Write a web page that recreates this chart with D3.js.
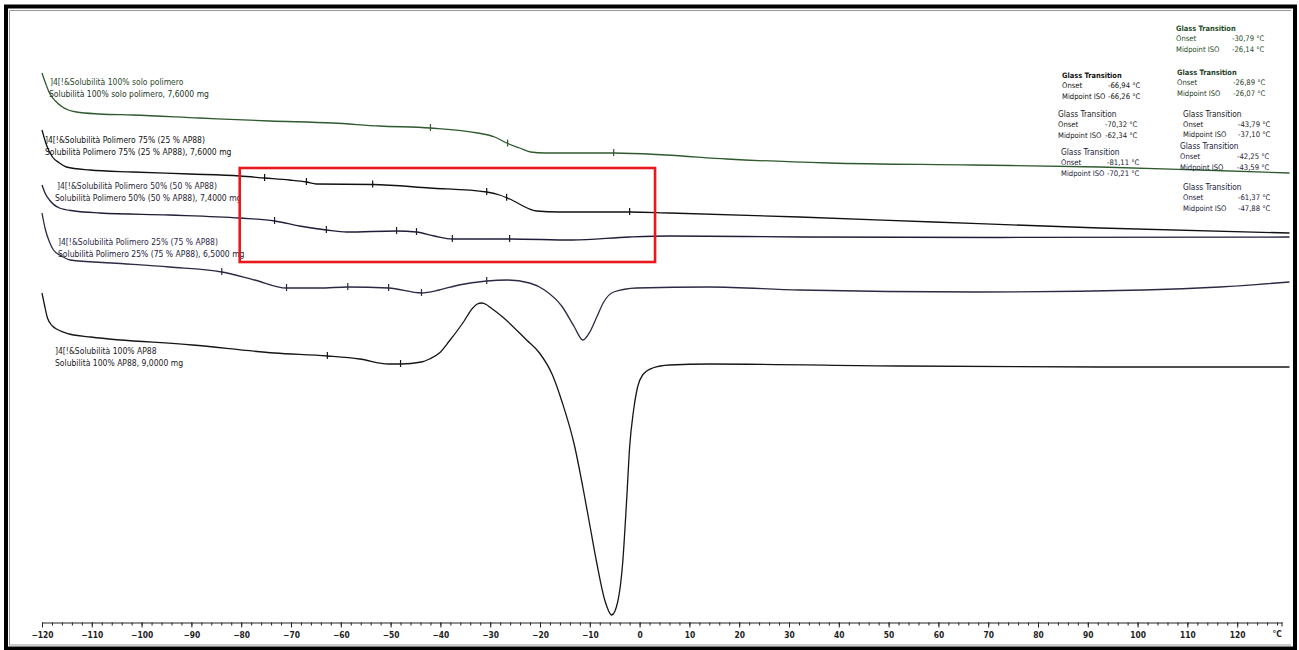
<!DOCTYPE html>
<html>
<head>
<meta charset="utf-8">
<script src="https://cdn.jsdelivr.net/npm/d3@7"></script>
<style>
  body { margin: 0; background: #fff; }
  svg { display: block; }
  text { font-family: "DejaVu Sans Condensed", "Liberation Sans Narrow", sans-serif; }
</style>
</head>
<body>
<div id="chart"></div>
<script>
// DSC curves: temperature (°C) and relative heat flow (mW, offset per curve)
const temps1 = [-120, -119.3, -118.5, -117.3, -115.9, -113.1, -108.4, -101.8, -88.4, -74.3, -61.6, -52.2, -42, -32.5, -29.1, -26.7, -24.1, -21.9, -19.1, -13.7, -5.2, 5.2, 17.5, 38, 66.7, 92.4, 112.4, 130.5];
const flow1  = [-7.3, -8.3, -9.3, -10.1, -10.7, -11.2, -11.4, -11.5, -11.8, -12.1, -12.3, -12.6, -12.8, -13.3, -13.7, -14.3, -14.8, -15.2, -15.3, -15.3, -15.3, -15.5, -15.9, -16.3, -16.5, -16.7, -17, -17.3];

const temps2 = [-120, -119.1, -117.9, -116.5, -115.1, -110.4, -101.8, -90.4, -80.3, -75.3, -70.3, -66.9, -64.9, -53.6, -42.2, -30.7, -28.1, -26.1, -20.7, -16.1, -2, 6, 32.1, 59, 92.4, 130.5];
const flow2  = [-13.0, -14.5, -15.7, -16.3, -16.7, -17.0, -17.2, -17.4, -17.6, -17.8, -18.0, -18.2, -18.4, -18.45, -18.8, -19.2, -19.5, -19.9, -21.1, -21.2, -21.2, -21.3, -21.7, -22.2, -22.8, -23.3];

const temps3 = [-120, -119.3, -118.5, -116.5, -113.5, -108.4, -94.4, -80.3, -73.3, -68.3, -62.9, -58.8, -48.8, -44.8, -41.2, -37.6, -26.1, -13.5, -2, 6, 32.1, 72.3, 130.5];
const flow3  = [-18.5, -19.4, -20.0, -20.8, -21.1, -21.3, -21.5, -21.8, -22.1, -22.6, -23.0, -23.2, -23.1, -23.2, -23.6, -23.9, -23.9, -24.0, -23.7, -23.6, -23.7, -23.75, -23.7];

const temps4 = [-120, -119.3, -118.5, -117.7, -116.1, -114.3, -106, -94.4, -83.9, -77.3, -70.9, -64.3, -58.6, -50.4, -43.8, -40.2, -36.3, -30.7, -26.5, -22.1, -19.1, -15.5, -13.1, -11.4, -10, -8.6, -7.2, -5.2, -0.6, 14.1, 32.1, 67.5, 101.2, 116.5, 130.5];
const flow4  = [-21.3, -23.0, -24.2, -25.0, -25.6, -26.0, -26.3, -26.7, -27.2, -28.0, -28.8, -28.8, -28.7, -28.8, -29.3, -29.0, -28.5, -28.1, -28.0, -28.3, -29.0, -30.7, -32.7, -34.0, -33.2, -31.7, -30.2, -29.2, -28.8, -28.7, -29.0, -29.2, -29.0, -28.7, -28.2];

const temps5 = [-120, -119.5, -118.9, -117.9, -116.7, -114.5, -110.2, -89.8, -73.3, -62.7, -56.2, -50.4, -48, -43.8, -42.2, -40.2, -38.2, -35.5, -33.5, -32.6, -31.7, -30.8, -30.1, -27.5, -22.7, -20.1, -17.5, -15.5, -13.1, -11.4, -10, -8.6, -7, -5.6, -4.4, -3.4, -2.6, -2, -1.2, -0.4, 0.6, 2.6, 6, 14.1, 52.2, 92.4, 130.5];
const flow5  = [-29.3, -30.5, -31.8, -32.6, -33.0, -33.4, -33.7, -34.5, -35.3, -35.6, -35.9, -36.4, -36.4, -36.2, -35.9, -35.3, -34.1, -32.3, -30.8, -30.4, -30.3, -30.45, -30.7, -31.7, -34.0, -35.3, -37.5, -40.3, -44.5, -48.7, -52.5, -56.3, -60.0, -61.5, -60.2, -56.3, -50.0, -44.7, -41.0, -38.7, -37.5, -36.8, -36.5, -36.4, -36.6, -36.7, -36.7];

// evaluation markers on each curve (°C)
const marks1 = [-42, -26.5, -5.2];
const marks2 = [-75.3, -66.9, -53.6, -30.7, -26.7, -2];
const marks3 = [-73.3, -62.9, -48.8, -44.8, -37.6, -26.1];
const marks4 = [-83.9, -70.9, -58.6, -50.4, -43.8, -30.7];
const marks5 = [-62.7, -48];

// sample names and masses
const sampleNames = [
  'Solubilità 100% solo polimero',
  'Solubilità Polimero 75% (25 % AP88)',
  'Solubilità Polimero 50% (50 % AP88)',
  'Solubilità Polimero 25% (75 % AP88)',
  'Solubilità 100% AP88'
];
const sampleMasses = ['7,6000', '7,6000', '7,4000', '6,5000', '9,0000'];

// glass transition results
const onsetValues    = ['-30,79', '-66,94', '-26,89', '-70,32', '-43,79', '-42,25', '-81,11', '-61,37'];
const midpointValues = ['-26,14', '-66,26', '-26,07', '-62,34', '-37,10', '-43,59', '-70,21', '-47,88'];

// x tick labels
const tickLabels = d3.range(-120, 121, 10);

const W = 1299, H = 650;
const svg = d3.select('#chart').append('svg')
  .attr('width', W)
  .attr('height', H);

const x = d3.scaleLinear().domain([-120, 129]).range([42, 42 + 249 * 4.98]);
const y = d3.scaleLinear().domain([0, -62]).range([0, 620]);

const curves = [
  {t: temps1, f: flow1, marks: marks1, color: '#2f5a2f'},
  {t: temps2, f: flow2, marks: marks2, color: '#111111'},
  {t: temps3, f: flow3, marks: marks3, color: '#1e1e38'},
  {t: temps4, f: flow4, marks: marks4, color: '#2a2a44'},
  {t: temps5, f: flow5, marks: marks5, color: '#161616'}
];

const line = d3.line()
  .x(d => x(d[0]))
  .y(d => y(d[1]))
  .curve(d3.curveMonotoneX);

curves.forEach(c => {
  const pts = c.t.map((t, i) => [t, c.f[i]]);
  svg.append('path')
    .datum(pts)
    .attr('fill', 'none')
    .attr('stroke', c.color)
    .attr('stroke-width', 1.3)
    .attr('d', line);

  // piecewise linear lookup for marker positions
  const along = d3.scaleLinear().domain(c.t).range(c.f);
  svg.selectAll(null)
    .data(c.marks)
    .enter().append('line')
    .attr('x1', d => x(d))
    .attr('x2', d => x(d))
    .attr('y1', d => y(along(d)) - 4)
    .attr('y2', d => y(along(d)) + 3)
    .attr('stroke', c.color)
    .attr('stroke-width', 1.2);
});

// sample labels
const labelLayout = [
  {x1: 50, x2: 49, y: 85, c1: '#2b4a2b', c2: '#22381f'},
  {x1: 45, x2: 45, y: 143, c1: '#111', c2: '#111'},
  {x1: 57, x2: 55, y: 189, c1: '#2a1f38', c2: '#1f1a2a'},
  {x1: 58, x2: 58, y: 245, c1: '#2a2a48', c2: '#222238'},
  {x1: 55, x2: 55, y: 354, c1: '#1a1a1a', c2: '#1a1a1a'}
];
sampleNames.forEach((name, i) => {
  const l = labelLayout[i];
  svg.append('text')
    .attr('x', l.x1).attr('y', l.y)
    .attr('font-size', 8.5).attr('fill', l.c1)
    .text(']4[!&' + name);
  svg.append('text')
    .attr('x', l.x2).attr('y', l.y + 11.5)
    .attr('font-size', 8.5).attr('fill', l.c2)
    .text(name + ', ' + sampleMasses[i] + ' mg');
});

// glass transition result blocks
const blockLayout = [
  {x: 1176, vx: 1232, y: 31, color: '#1f4d1f', bold: true},
  {x: 1062, vx: 1108, y: 78, color: '#111', bold: true},
  {x: 1177, vx: 1233, y: 75, color: '#1f3d1f', bold: true},
  {x: 1058, vx: 1105, y: 117, color: '#1a1a1a', bold: false},
  {x: 1183, vx: 1238, y: 116.5, color: '#1a1a1a', bold: false},
  {x: 1180, vx: 1237, y: 149, color: '#1a1a38', bold: false},
  {x: 1061, vx: 1107, y: 155, color: '#1a1a38', bold: false},
  {x: 1183, vx: 1238, y: 190, color: '#1a1a38', bold: false}
];
onsetValues.forEach((v, i) => {
  const b = blockLayout[i];
  const g = svg.append('g').attr('fill', b.color).attr('font-size', 7.6);
  g.append('text').attr('x', b.x).attr('y', b.y)
    .attr('font-weight', b.bold ? 'bold' : 'normal')
    .attr('font-size', b.bold ? 7.4 : 8.3)
    .text('Glass Transition');
  g.append('text').attr('x', b.x).attr('y', b.y + 10.3).text('Onset');
  g.append('text').attr('x', b.vx).attr('y', b.y + 10.3).text(v + ' °C');
  g.append('text').attr('x', b.x).attr('y', b.y + 20.6).text('Midpoint ISO');
  g.append('text').attr('x', b.vx).attr('y', b.y + 20.6).text(midpointValues[i] + ' °C');
});

// highlight box
const boxRange = {t0: -80.3, t1: 3.1, f0: -16.8, f1: -26.2};
svg.append('rect')
  .attr('x', x(boxRange.t0))
  .attr('y', y(boxRange.f0))
  .attr('width', x(boxRange.t1) - x(boxRange.t0))
  .attr('height', y(boxRange.f1) - y(boxRange.f0))
  .attr('fill', 'none')
  .attr('stroke', '#e8191c')
  .attr('stroke-width', 2.6);

// temperature axis
const axisY = 622.5;
const minorAxis = svg.append('g')
  .attr('transform', 'translate(0,' + axisY + ')')
  .call(d3.axisBottom(x).tickValues(d3.range(-120, 129, 2)).tickSize(3).tickSizeOuter(0).tickFormat(''));
const majorAxis = svg.append('g')
  .attr('transform', 'translate(0,' + axisY + ')')
  .call(d3.axisBottom(x).tickValues(tickLabels).tickSize(5).tickPadding(5).tickSizeOuter(0));
majorAxis.select('.domain').remove();
svg.selectAll('.tick line').attr('stroke', '#222');
minorAxis.select('.domain').attr('stroke', '#222');
minorAxis.append('line')
  .attr('x1', x(129)).attr('x2', x(129))
  .attr('y1', 0).attr('y2', 4)
  .attr('stroke', '#222');
majorAxis.selectAll('.tick text')
  .attr('font-family', '"DejaVu Sans Condensed", sans-serif')
  .attr('font-size', 8.4)
  .attr('font-weight', 'bold')
  .attr('fill', '#222');
majorAxis.append('text')
  .attr('x', x(128)).attr('y', 14.5)
  .attr('text-anchor', 'middle')
  .attr('font-size', 8.4)
  .attr('font-weight', 'bold')
  .attr('fill', '#222')
  .text('°C');

// frame
svg.append('rect')
  .attr('x', 6).attr('y', 6.5)
  .attr('width', 1289).attr('height', 642)
  .attr('fill', 'none')
  .attr('stroke', '#000')
  .attr('stroke-width', 4);
svg.append('path')
  .attr('d', 'M9.5,645.5 V10.5 H1291')
  .attr('fill', 'none')
  .attr('stroke', '#999')
  .attr('stroke-width', 1);
svg.append('line')
  .attr('x1', 9.5).attr('x2', 1291)
  .attr('y1', 645).attr('y2', 645)
  .attr('stroke', '#999');
</script>
</body>
</html>
